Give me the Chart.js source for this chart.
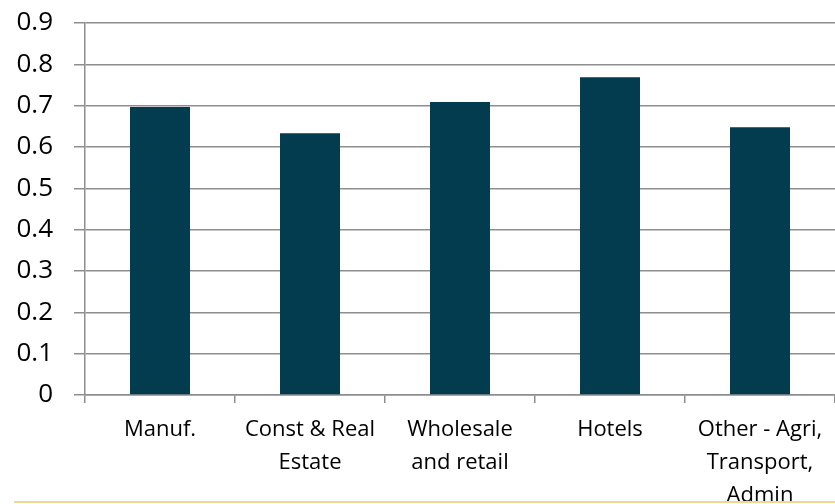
<!DOCTYPE html>
<html>
<head>
<meta charset="utf-8">
<script src="https://cdn.jsdelivr.net/npm/chart.js@4/dist/chart.umd.min.js"></script>
<style>
  html, body { margin: 0; padding: 0; background: #ffffff; }
  #wrap { position: relative; width: 835px; height: 504px; overflow: hidden; }
  #rule { position: absolute; left: 14px; right: 0; top: 501px; height: 2px; background: #efd98f; }
</style>
</head>
<body>
<div id="wrap">
  <canvas id="c" width="835" height="504"></canvas>
  <div id="rule"></div>
</div>
<script>
// Sector categories (multi-line labels as arrays)
const categories = [
  'Manuf.',
  ['Const & Real', 'Estate'],
  ['Wholesale', 'and retail'],
  'Hotels',
  ['Other - Agri,', 'Transport,', 'Admin']
];
// Ratio by sector
const values = [0.697, 0.633, 0.709, 0.769, 0.648];
// Value axis range
const yMin = 0;
const yMax = 0.9;
const yStep = 0.1;

const FONT = "'Open Sans', 'DejaVu Sans', sans-serif";
const GRID = '#8e8e8e';

new Chart(document.getElementById('c'), {
  type: 'bar',
  data: {
    labels: categories,
    datasets: [{
      data: values,
      backgroundColor: '#023c4e',
      borderWidth: 0,
      categoryPercentage: 1.0,
      barPercentage: 0.4
    }]
  },
  options: {
    responsive: false,
    animation: false,
    layout: { padding: { top: 23, right: 0, bottom: 0, left: 0 } },
    plugins: { legend: { display: false }, tooltip: { enabled: false } },
    scales: {
      x: {
        grid: {
          offset: true,
          drawOnChartArea: false,
          drawTicks: true,
          tickLength: 8,
          color: GRID,
          lineWidth: 1.5
        },
        border: { display: true, color: GRID, width: 1.5 },
        ticks: {
          color: '#000000',
          font: { family: FONT, size: 22, lineHeight: 1.5 },
          maxRotation: 0,
          minRotation: 0,
          autoSkip: false,
          padding: 10
        },
        afterFit(scale) { scale.height = 109; }
      },
      y: {
        min: yMin,
        max: yMax,
        grid: {
          color: GRID,
          lineWidth: 1.5,
          drawTicks: true,
          tickLength: 11
        },
        border: { display: true, color: GRID, width: 1.5 },
        ticks: {
          stepSize: yStep,
          color: '#000000',
          font: { family: FONT, size: 26 },
          padding: 21,
          callback: (v) => String(Number(v.toFixed(1)))
        },
        afterFit(scale) {
          scale.width = 85;
          scale.paddingTop = 0;
          scale.paddingBottom = 0;
        }
      }
    }
  }
});
</script>
</body>
</html>
